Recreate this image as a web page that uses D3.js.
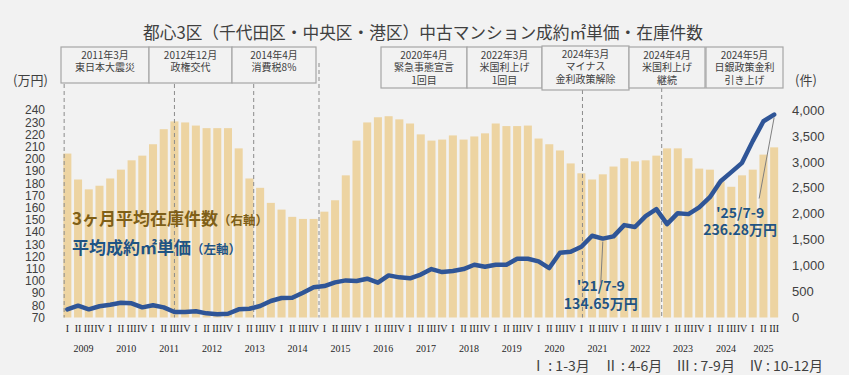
<!DOCTYPE html>
<html>
<head>
<meta charset="utf-8">
<script src="https://cdn.jsdelivr.net/npm/d3@7"></script>
<style>
  body { margin: 0; background: #f2f2f2; }
  svg { display: block; font-family: "Noto Sans CJK JP", "Noto Sans", sans-serif; }
</style>
</head>
<body>
<svg id="chart" width="849" height="375"></svg>
<script>
// quarters 2009 Q1 .. 2025 Q3
const years = d3.range(2009, 2026);
const quarterNames = ["I", "II", "III", "IV"];

// 3ヶ月平均在庫件数 (right axis)
const inventory = [
  3160, 2660, 2470, 2540, 2680, 2850, 3030, 3120, 3340, 3630,
  3780, 3760, 3700, 3650, 3650, 3650, 3260, 2680, 2500, 2210,
  2080, 1940, 1900, 1900, 2040, 2260, 2740, 3410, 3760, 3860,
  3880, 3820, 3740, 3530, 3410, 3430, 3510, 3430, 3490, 3550,
  3740, 3690, 3690, 3700, 3450, 3340, 3220, 2970, 2780, 2660,
  2760, 2910, 3070, 3010, 3030, 3120, 3260, 3260, 3070, 2870,
  2850, 2620, 2520, 2740, 2850, 3140, 3280
];

// 平均成約㎡単価 (left axis, 万円)
const price = [
  76.7, 79.7, 76.7, 79.2, 80.5, 82.1, 81.6, 78.3, 80.0, 78.3,
  74.5, 74.5, 75.1, 73.4, 72.6, 73.1, 76.7, 77.2, 79.4, 83.5,
  86.0, 86.2, 90.3, 94.7, 95.8, 98.8, 100.4, 99.9, 101.8, 98.5,
  104.5, 102.9, 102.1, 105.2, 109.7, 107.2, 108.1, 109.7, 113.2, 111.6,
  113.2, 113.2, 118.1, 118.1, 116.0, 110.5, 123.0, 123.9, 128.0, 137.0,
  134.65, 136.5, 145.7, 144.1, 153.1, 158.8, 146.5, 155.5, 154.7, 160.2,
  168.6, 181.7, 189.1, 196.7, 214.5, 230.8, 236.28
];

const leftTicks = d3.range(70, 241, 10);
const rightTicks = d3.range(0, 4001, 500);

// event boxes on top
const eventDates = ["2011年3月", "2012年12月", "2014年4月", "2020年4月", "2022年3月", "2024年3月", "2024年4月", "2024年5月"];
const eventNotes = [
  ["東日本大震災"], ["政権交代"], ["消費税8%"],
  ["緊急事態宣言", "1回目"], ["米国利上げ", "1回目"], ["マイナス", "金利政策解除"],
  ["米国利上げ", "継続"], ["日銀政策金利", "引き上げ"]
];
// dashed guide lines, in quarter index units
const guideQ = [-0.3, 10, 17.4, 23.5, 48.1, 55.5];

// callouts
const calloutIdx = [50, 66];
const calloutDate = ["'21/7-9", "'25/7-9"];
const calloutText = ["134.65万円", "236.28万円"];

const quarters = d3.range(price.length);

const svg = d3.select("#chart");
const W = 849, H = 375;
const plotTop = 110, plotBottom = 317.5;

svg.append("rect").attr("width", W).attr("height", H).attr("fill", "#f2f2f2");

const x = d3.scaleBand().domain(quarters).range([62, 779.5]).paddingInner(0.25).paddingOuter(0.125);
const yL = d3.scaleLinear().domain([70, 240]).range([plotBottom, plotTop]);
const yR = d3.scaleLinear().domain([0, 4000]).range([plotBottom, plotTop]);
const cx = i => x(i) + x.bandwidth() / 2;
const qx = q => x(0) + x.bandwidth() / 2 + q * x.step();

// title
svg.append("text")
  .attr("x", 423).attr("y", 39)
  .attr("text-anchor", "middle")
  .attr("font-size", 16.7)
  .attr("fill", "#404040")
  .text("都心3区（千代田区・中央区・港区）中古マンション成約㎡単価・在庫件数");

// bars
svg.append("g").selectAll("rect")
  .data(inventory)
  .join("rect")
  .attr("x", (d, i) => x(i))
  .attr("width", x.bandwidth())
  .attr("y", d => yR(d))
  .attr("height", d => yR(0) - yR(d))
  .attr("fill", "#edd4a2");

// guide lines
const guideTop = [84, 84, 84, 63, 90, 88];
svg.append("g").selectAll("line")
  .data(guideQ)
  .join("line")
  .attr("x1", d => qx(d)).attr("x2", d => qx(d))
  .attr("y1", (d, i) => guideTop[i]).attr("y2", plotBottom)
  .attr("stroke", "#8c8c8c")
  .attr("stroke-width", 1)
  .attr("stroke-dasharray", "4,3");

// price line
svg.append("path")
  .datum(price)
  .attr("fill", "none")
  .attr("stroke", "#2f5597")
  .attr("stroke-width", 4.5)
  .attr("stroke-linejoin", "round")
  .attr("stroke-linecap", "round")
  .attr("d", d3.line().x((d, i) => cx(i)).y(d => yL(d)));

// left axis
const gL = svg.append("g")
  .attr("transform", "translate(47,0)")
  .call(d3.axisLeft(yL).tickValues(leftTicks).tickSize(0).tickPadding(2));
gL.select(".domain").remove();
gL.selectAll("text").attr("font-size", 12).attr("fill", "#404040")
  .attr("font-family", "'Liberation Sans', Arial, sans-serif");

// right axis
const gR = svg.append("g")
  .attr("transform", "translate(790,0)")
  .call(d3.axisRight(yR).tickValues(rightTicks).tickFormat(d3.format(",")).tickSize(0).tickPadding(2));
gR.select(".domain").remove();
gR.selectAll("text").attr("font-size", 13).attr("fill", "#404040")
  .attr("font-family", "'Liberation Sans', Arial, sans-serif");

// unit labels
svg.append("text").attr("x", 13).attr("y", 85).attr("font-size", 13).attr("fill", "#404040").text("(万円)");
svg.append("text").attr("x", 795).attr("y", 85).attr("font-size", 13).attr("fill", "#404040").text("(件)");

// x axis: quarters
const gX = svg.append("g")
  .attr("transform", "translate(0,325)")
  .call(d3.axisBottom(x).tickFormat(i => quarterNames[i % 4]).tickSize(0).tickPadding(0));
gX.select(".domain").remove();
gX.selectAll("text")
  .attr("font-size", 10).attr("fill", "#262626")
  .attr("font-family", "'Liberation Serif', 'Times New Roman', serif");

// year labels, centered on available quarters
svg.append("g").selectAll("text")
  .data(years)
  .join("text")
  .attr("x", (d, yi) => {
    const q = quarters.filter(i => Math.floor(i / 4) === yi);
    return (cx(q[0]) + cx(q[q.length - 1])) / 2;
  })
  .attr("y", 352)
  .attr("text-anchor", "middle")
  .attr("font-size", 10)
  .attr("fill", "#262626")
  .attr("font-family", "'Liberation Serif', 'Times New Roman', serif")
  .text(d => d);

// quarter legend
svg.append("text")
  .attr("x", 823).attr("y", 371)
  .attr("text-anchor", "end")
  .attr("font-size", 14)
  .attr("fill", "#404040")
  .attr("xml:space", "preserve")
  .text("Ⅰ : 1-3月　Ⅱ : 4-6月　Ⅲ : 7-9月　Ⅳ : 10-12月");

// event boxes
const boxX = [[61, 149], [149, 232], [232, 316], [381, 467], [467, 542], [542, 629], [629, 705], [706, 783]];
const boxY = [[47, 83], [47, 83], [47, 83], [47, 88], [47, 88], [46, 90], [47, 88], [47, 88]];
const boxes = svg.append("g").selectAll("g")
  .data(eventDates)
  .join("g");
boxes.append("rect")
  .attr("x", (d, i) => boxX[i][0]).attr("y", (d, i) => boxY[i][0])
  .attr("width", (d, i) => boxX[i][1] - boxX[i][0])
  .attr("height", (d, i) => boxY[i][1] - boxY[i][0])
  .attr("fill", "#f2f2f2")
  .attr("stroke", "#a6a6a6")
  .attr("stroke-width", 1.2);
boxes.each(function (d, i) {
  const g = d3.select(this);
  const lines = [d].concat(eventNotes[i]);
  const mid = (boxX[i][0] + boxX[i][1]) / 2;
  g.selectAll("text")
    .data(lines)
    .join("text")
    .attr("x", mid)
    .attr("y", (t, j) => boxY[i][0] + 12 + j * 12.3)
    .attr("text-anchor", "middle")
    .attr("font-size", 10)
    .attr("fill", "#404040")
    .text(t => t);
});

// in-chart legend
const lg1 = svg.append("text").attr("x", 72).attr("y", 225)
  .attr("font-size", 17).attr("font-weight", "bold").attr("fill", "#7f5f17");
lg1.append("tspan").text("3ヶ月平均在庫件数");
lg1.append("tspan").attr("font-size", 12.5).text("（右軸）");
const lg2 = svg.append("text").attr("x", 72).attr("y", 254)
  .attr("font-size", 17).attr("font-weight", "bold").attr("fill", "#1f5484");
lg2.append("tspan").text("平均成約㎡単価");
lg2.append("tspan").attr("font-size", 12.5).text("（左軸）");

// callouts
const calloutLayout = [
  { tx: -2, ty1: 52, ty2: 70, lx: -2, ly: 44 },
  { tx: -34, ty1: 103, ty2: 120, lx: -15, ly: 84 }
];
calloutIdx.forEach((idx, k) => {
  const px = cx(idx), py = yL(price[idx]);
  const L = calloutLayout[k];
  svg.append("line")
    .attr("x1", px).attr("y1", py + 3)
    .attr("x2", px + L.lx).attr("y2", py + L.ly)
    .attr("stroke", "#7f7f7f").attr("stroke-width", 1);
  svg.append("text")
    .attr("x", px + L.tx).attr("y", py + L.ty1)
    .attr("text-anchor", "middle")
    .attr("font-size", 14).attr("font-weight", "bold").attr("fill", "#1f5484")
    .text(calloutDate[k]);
  svg.append("text")
    .attr("x", px + L.tx).attr("y", py + L.ty2)
    .attr("text-anchor", "middle")
    .attr("font-size", 14).attr("font-weight", "bold").attr("fill", "#1f5484")
    .text(calloutText[k]);
});
</script>
</body>
</html>
